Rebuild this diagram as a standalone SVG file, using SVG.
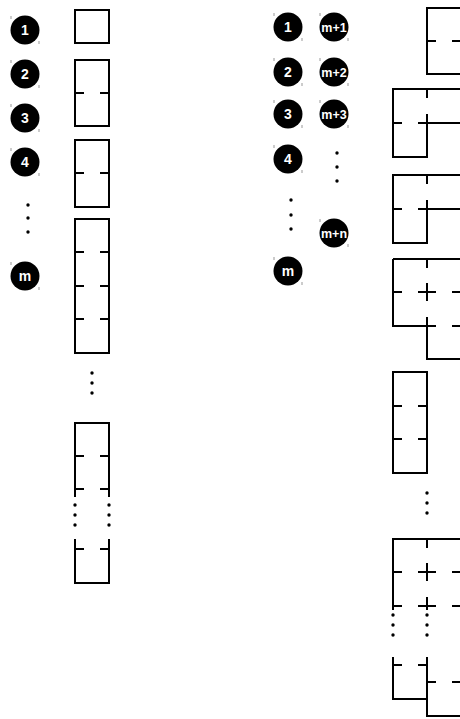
<svg xmlns="http://www.w3.org/2000/svg" width="460" height="719" viewBox="0 0 460 719">
<style>
.w{fill:none;stroke:#000;stroke-width:2}
.c{fill:#000}
.t{fill:#fff;font-family:"Liberation Sans",Arial,sans-serif;font-weight:bold;font-size:14px;text-anchor:middle}
.s{font-size:12.5px}
.k{stroke:#999;stroke-width:1}
.d{fill:#000}
</style>
<defs>
<g id="mk"><line class="k" x1="-14" y1="-14" x2="-14" y2="-11"/><line class="k" x1="14" y1="11" x2="14" y2="14"/></g>
</defs>
<rect width="460" height="719" fill="#fff"/>
<g id="left-circles">
<g id="l1"><circle class="c" cx="25" cy="30" r="14.5"/><use href="#mk" x="25" y="30"/><text class="t" x="25" y="35">1</text></g>
<g id="l2"><circle class="c" cx="25" cy="74" r="14.5"/><use href="#mk" x="25" y="74"/><text class="t" x="25" y="79">2</text></g>
<g id="l3"><circle class="c" cx="25" cy="118" r="14.5"/><use href="#mk" x="25" y="118"/><text class="t" x="25" y="123">3</text></g>
<g id="l4"><circle class="c" cx="25" cy="162" r="14.5"/><use href="#mk" x="25" y="162"/><text class="t" x="25" y="167">4</text></g>
<g id="ldots"><circle class="d" cx="28" cy="205" r="1.7"/><circle class="d" cx="28" cy="218" r="1.7"/><circle class="d" cx="28" cy="232" r="1.7"/></g>
<g id="lm"><circle class="c" cx="25" cy="276" r="14.5"/><use href="#mk" x="25" y="276"/><text class="t" x="25" y="281">m</text></g>
</g>
<g id="left-boxes">
<g id="b1"><rect class="w" x="75" y="10" width="34" height="33"/></g>
<g id="b2"><rect class="w" x="75" y="60" width="34" height="66"/><path class="w" d="M75 93h9M100 93h9"/></g>
<g id="b3"><rect class="w" x="75" y="140" width="34" height="67"/><path class="w" d="M75 173h9M100 173h9"/></g>
<g id="b4"><rect class="w" x="75" y="219" width="34" height="134"/><path class="w" d="M75 252h9M100 252h9M75 286h9M100 286h9M75 319h9M100 319h9"/></g>
<g id="bdots"><circle class="d" cx="92" cy="373" r="1.7"/><circle class="d" cx="92" cy="383" r="1.7"/><circle class="d" cx="92" cy="393" r="1.7"/></g>
<g id="b5"><path class="w" d="M75 497V423H109V497M75 539V583H109V539M75 456h9M100 456h9M75 489h9M100 489h9M75 549h9M100 549h9"/>
<circle class="d" cx="75" cy="505" r="1.7"/><circle class="d" cx="75" cy="515" r="1.7"/><circle class="d" cx="75" cy="525" r="1.7"/>
<circle class="d" cx="109" cy="505" r="1.7"/><circle class="d" cx="109" cy="515" r="1.7"/><circle class="d" cx="109" cy="525" r="1.7"/></g>
</g>
<g id="right-circles">
<g id="r1"><circle class="c" cx="288" cy="27" r="14.5"/><use href="#mk" x="288" y="27"/><text class="t" x="288" y="32">1</text></g>
<g id="r2"><circle class="c" cx="288" cy="72" r="14.5"/><use href="#mk" x="288" y="72"/><text class="t" x="288" y="77">2</text></g>
<g id="r3"><circle class="c" cx="288" cy="114" r="14.5"/><use href="#mk" x="288" y="114"/><text class="t" x="288" y="119">3</text></g>
<g id="r4"><circle class="c" cx="288" cy="159" r="14.5"/><use href="#mk" x="288" y="159"/><text class="t" x="288" y="164">4</text></g>
<g id="rdots"><circle class="d" cx="291" cy="200" r="1.7"/><circle class="d" cx="291" cy="215" r="1.7"/><circle class="d" cx="291" cy="229" r="1.7"/></g>
<g id="rm"><circle class="c" cx="288" cy="271" r="14.5"/><use href="#mk" x="288" y="271"/><text class="t" x="288" y="276">m</text></g>
<g id="q1"><circle class="c" cx="334" cy="27" r="14.5"/><use href="#mk" x="334" y="27"/><text class="t s" x="334" y="31.5">m+1</text></g>
<g id="q2"><circle class="c" cx="334" cy="72" r="14.5"/><use href="#mk" x="334" y="72"/><text class="t s" x="334" y="76.5">m+2</text></g>
<g id="q3"><circle class="c" cx="334" cy="114" r="14.5"/><use href="#mk" x="334" y="114"/><text class="t s" x="334" y="118.5">m+3</text></g>
<g id="qdots"><circle class="d" cx="337" cy="153" r="1.7"/><circle class="d" cx="337" cy="167" r="1.7"/><circle class="d" cx="337" cy="181" r="1.7"/></g>
<g id="qn"><circle class="c" cx="334" cy="233" r="14.5"/><use href="#mk" x="334" y="233"/><text class="t s" x="334" y="237.5">m+n</text></g>
</g>
<g id="right-shapes">
<g id="sA"><rect class="w" x="427" y="8" width="34" height="66"/><path class="w" d="M427 41h9M452 41h9"/></g>
<g id="sB"><path class="w" d="M427 123V157H393V89H461V123H427M427 89v9M427 114v9M393 123h9M418 123h9"/></g>
<g id="sC"><path class="w" d="M427 209V243H393V175H461V209H427M427 175v9M427 200v9M393 209h9M418 209h9"/></g>
<g id="sD"><path class="w" d="M393 259H461V359H427V326H393V259M427 259v9M427 283v18M427 317v9M393 292h9M418 292h18M452 292h9M427 326h9M452 326h9"/></g>
<g id="sE"><rect class="w" x="393" y="372" width="34" height="101"/><path class="w" d="M393 406h9M418 406h9M393 439h9M418 439h9"/></g>
<g id="sdots"><circle class="d" cx="427" cy="493" r="1.7"/><circle class="d" cx="427" cy="503" r="1.7"/><circle class="d" cx="427" cy="513" r="1.7"/></g>
<g id="sF"><path class="w" d="M393 610V539H461V610M393 657V699H427M427 657V716H461V657M427 539v9M427 563v18M427 597v13M393 572h9M418 572h18M452 572h9M393 606h9M418 606h18M452 606h9M393 665h9M418 665h9M427 682h9M452 682h9"/>
<circle class="d" cx="393" cy="615" r="1.7"/><circle class="d" cx="393" cy="625" r="1.7"/><circle class="d" cx="393" cy="635" r="1.7"/>
<circle class="d" cx="427" cy="615" r="1.7"/><circle class="d" cx="427" cy="625" r="1.7"/><circle class="d" cx="427" cy="635" r="1.7"/></g>
</g>
</svg>
